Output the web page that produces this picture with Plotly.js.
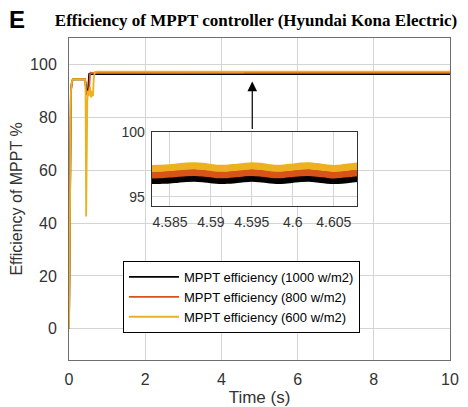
<!DOCTYPE html>
<html>
<head>
<meta charset="utf-8">
<script src="https://cdn.plot.ly/plotly-3.0.1.min.js"></script>
<style>html,body{margin:0;padding:0;background:#fff;}#chart{width:468px;height:407px;}</style>
</head>
<body>
<div id="chart"></div>
<script>
// ---- data ----
var seriesNames = ['MPPT efficiency (1000 w/m2)', 'MPPT efficiency (800 w/m2)', 'MPPT efficiency (600 w/m2)'];

// start-up transient
var t1000Start = [0, 0.02, 0.035, 0.05, 0.08, 0.11, 0.42, 0.44, 0.47, 0.5, 0.51, 0.53, 0.56, 0.6, 0.7];
var e1000Start = [0, 40, 80, 90, 93.8, 94.4, 94.4, 91, 89, 90, 96, 96.6, 96.2, 96.4, 96.35];
var t800Start  = [0, 0.02, 0.035, 0.05, 0.08, 0.11, 0.42, 0.44, 0.47, 0.5, 0.53, 0.55, 0.57, 0.6, 0.7];
var e800Start  = [0, 40, 80, 90, 93.8, 94.4, 94.4, 91, 88.5, 89, 91, 96.2, 96.9, 96.7, 96.8];
var t600Start  = [0, 0.02, 0.035, 0.05, 0.08, 0.11, 0.42, 0.435, 0.45, 0.465, 0.48, 0.5, 0.52, 0.55, 0.58, 0.61, 0.63, 0.65, 0.68, 0.75];
var e600Start  = [0, 40, 80, 90, 93.8, 94.4, 94.4, 90, 42.5, 75, 86, 90, 88, 91.5, 87.5, 90, 88, 95, 97.1, 97.3];

// zoomed window (inset)
var tZoom = [4.583, 4.584, 4.585, 4.586, 4.587, 4.588, 4.589, 4.590, 4.591, 4.592, 4.593, 4.594, 4.595,
             4.596, 4.597, 4.598, 4.599, 4.600, 4.601, 4.602, 4.603, 4.604, 4.605, 4.606, 4.607, 4.608];
var e600Zoom  = [97.20, 97.22, 97.26, 97.32, 97.38, 97.40, 97.36, 97.28, 97.21, 97.22, 97.28, 97.35, 97.40,
                 97.36, 97.28, 97.21, 97.24, 97.31, 97.38, 97.40, 97.34, 97.26, 97.20, 97.24, 97.32, 97.38];
var e800Zoom  = [96.70, 96.72, 96.76, 96.82, 96.87, 96.89, 96.85, 96.78, 96.71, 96.72, 96.78, 96.85, 96.89,
                 96.85, 96.77, 96.71, 96.74, 96.81, 96.87, 96.89, 96.83, 96.76, 96.70, 96.74, 96.81, 96.87];
var e1000Zoom = [96.26, 96.28, 96.31, 96.37, 96.42, 96.44, 96.40, 96.33, 96.27, 96.28, 96.33, 96.40, 96.44,
                 96.40, 96.33, 96.27, 96.29, 96.36, 96.42, 96.44, 96.38, 96.31, 96.26, 96.29, 96.36, 96.42];

// end of run
var tTail = [10];
var e1000Tail = [96.35];
var e800Tail = [96.8];
var e600Tail = [97.3];

var xTicks = [0, 2, 4, 6, 8, 10];
var yTicks = [0, 20, 40, 60, 80, 100];
var insetXTicks = [4.585, 4.59, 4.595, 4.6, 4.605];
var insetXTickText = ['4.585', '4.59', '4.595', '4.6', '4.605'];
var insetYTicks = [95, 97, 100];
var insetYTickText = ['95', '', '100'];

// ---- build ----
var colors = ['#000000', '#D95319', '#EDB120'];
var xs = [t1000Start.concat(tZoom, tTail), t800Start.concat(tZoom, tTail), t600Start.concat(tZoom, tTail)];
var ys = [e1000Start.concat(e1000Zoom, e1000Tail), e800Start.concat(e800Zoom, e800Tail), e600Start.concat(e600Zoom, e600Tail)];

var traces = [];
for (var i = 0; i < 3; i++) {
  traces.push({x: xs[i], y: ys[i], type: 'scatter', mode: 'lines', name: seriesNames[i],
               line: {color: colors[i], width: 1.8}, xaxis: 'x', yaxis: 'y'});
}
for (var j = 0; j < 3; j++) {
  traces.push({x: xs[j], y: ys[j], type: 'scatter', mode: 'lines', showlegend: false,
               line: {color: colors[j], width: 7, shape: 'spline', smoothing: 1}, xaxis: 'x2', yaxis: 'y2', hoverinfo: 'skip'});
}

var tickFont = {family: 'Liberation Sans, Arial, sans-serif', size: 16, color: '#333'};
var layout = {
  width: 468, height: 407,
  margin: {l: 69, r: 18, t: 38, b: 47, pad: 0},
  paper_bgcolor: '#fff', plot_bgcolor: '#fff',
  showlegend: true,
  title: {text: '<b>Efficiency of MPPT controller (Hyundai Kona Electric)</b>',
          font: {family: 'Liberation Serif, Times New Roman, serif', size: 17, color: '#000'},
          x: 0.547, xanchor: 'center', y: 0.95, yanchor: 'middle', xref: 'container', yref: 'container'},
  xaxis: {domain: [0, 1], range: [0, 10], tickvals: xTicks, ticks: '', tickfont: tickFont,
          showgrid: true, gridcolor: '#d4d4d4', gridwidth: 1, zeroline: false,
          showline: true, linecolor: '#6e6e6e', linewidth: 1, mirror: true, ticklabelstandoff: 5,
          title: {text: 'Time (s)', font: {family: 'Liberation Sans, Arial, sans-serif', size: 17, color: '#333'}, standoff: 4},
          automargin: false},
  yaxis: {domain: [0, 1], range: [-11.8, 110], tickvals: yTicks, ticks: '', tickfont: tickFont,
          showgrid: true, gridcolor: '#d4d4d4', gridwidth: 1, zeroline: false,
          showline: true, linecolor: '#6e6e6e', linewidth: 1, mirror: true, ticklabelstandoff: 8,
          title: {text: 'Efficiency of MPPT %', font: {family: 'Liberation Sans, Arial, sans-serif', size: 16, color: '#333'}, standoff: 3},
          automargin: false},
  xaxis2: {domain: [0.217, 0.756], anchor: 'y2', range: [4.58277, 4.60784], tickvals: insetXTicks, ticktext: insetXTickText,
           ticks: '', tickfont: {family: 'Liberation Sans, Arial, sans-serif', size: 14, color: '#333'},
           showgrid: true, gridcolor: '#d4d4d4', zeroline: false, showline: true, linecolor: '#333', linewidth: 1, mirror: true,
           ticklabelstandoff: 3},
  yaxis2: {domain: [0.478, 0.708], anchor: 'x2', range: [94.3, 100], tickvals: insetYTicks, ticktext: insetYTickText,
           ticks: '', tickfont: {family: 'Liberation Sans, Arial, sans-serif', size: 14, color: '#333'},
           showgrid: true, gridcolor: '#d4d4d4', zeroline: false, showline: true, linecolor: '#333', linewidth: 1, mirror: true,
           ticklabelstandoff: 3},
  legend: {x: 0.1417, y: 0.3075, xanchor: 'left', yanchor: 'top', bgcolor: '#fff', bordercolor: '#000', borderwidth: 1,
           font: {family: 'Liberation Sans, Arial, sans-serif', size: 13, color: '#000'}, tracegroupgap: 0, itemwidth: 50},
  annotations: [
    {text: '<b>E</b>', xref: 'paper', yref: 'paper', x: -0.137, y: 1.059, xanchor: 'center', yanchor: 'middle',
     showarrow: false, font: {family: 'Liberation Sans, Arial, sans-serif', size: 24, color: '#000'}},
    {text: '', xref: 'x', yref: 'y', x: 4.81, y: 93.5, ax: 0, ay: 49, axref: 'pixel', ayref: 'pixel',
     showarrow: true, arrowhead: 2, arrowsize: 1.6, arrowwidth: 1.2, arrowcolor: '#000'}
  ]
};

Plotly.newPlot('chart', traces, layout, {displayModeBar: false, staticPlot: true});
</script>
</body>
</html>
